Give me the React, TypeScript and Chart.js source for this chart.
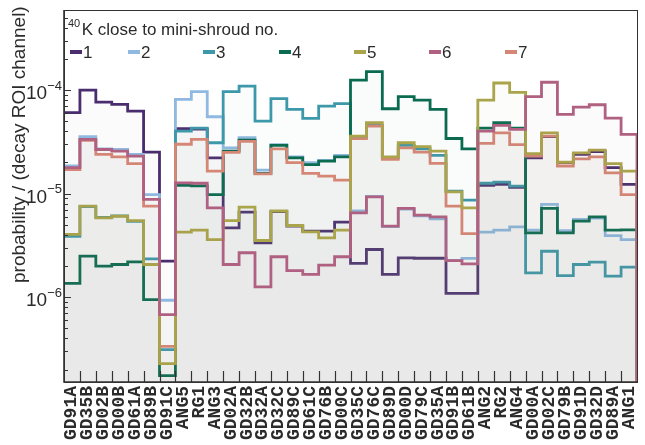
import React, { useEffect, useRef } from "react";
import { Chart, registerables } from "chart.js";

Chart.register(...registerables);

const categories = [
  "GD91A", "GD35B", "GD02B", "GD00B", "GD61A", "GD89B", "GD91C", "ANG5", "RG1", "ANG3",
  "GD02A", "GD32B", "GD32A", "GD32C", "GD89C", "GD61C", "GD76B", "GD00C", "GD35C", "GD76C",
  "GD89D", "GD00D", "GD79C", "GD35A", "GD91B", "GD61B", "ANG2", "RG2", "ANG4", "GD00A",
  "GD02C", "GD79B", "GD91D", "GD32D", "GD89A", "ANG1",
];

const shroud1 = [
  6.05e-5, 1.0e-4, 7.65e-5, 7.27e-5, 6.27e-5, 2.52e-5, 2.23e-6, 4.24e-5, 4.2e-5, 2.22e-5,
  4.68e-6, 6.62e-6, 3.35e-6, 6.7e-6, 4.85e-6, 4.34e-6, 4.34e-6, 5.31e-6, 2.12e-6, 2.89e-6,
  1.66e-6, 2.4e-6, 2.38e-6, 2.38e-6, 1.09e-6, 1.09e-6, 1.2e-5, 1.23e-5, 1.15e-5, 2.22e-5,
  3.55e-5, 2.0e-5, 2.4e-5, 2.55e-5, 1.78e-5, 1.23e-5,
];
const shroud2 = [
  1.85e-5, 3.55e-5, 2.71e-5, 2.67e-5, 2.39e-5, 9.8e-6, 9.35e-7, 8.13e-5, 9.65e-5, 5.53e-5,
  2.77e-5, 3.47e-5, 1.69e-5, 2.98e-5, 2.27e-5, 1.99e-5, 2.1e-5, 2.34e-5, 6.8e-6, 9.4e-6,
  4.8e-6, 7.1e-6, 6.1e-6, 5.71e-6, 2.27e-6, 2.37e-6, 4.26e-6, 4.44e-6, 4.78e-6, 4.44e-6,
  7.87e-6, 4.4e-6, 5.63e-6, 5.8e-6, 3.94e-6, 3.6e-6,
];
const shroud3 = [
  3.88e-6, 7.5e-6, 5.9e-6, 6.1e-6, 5.4e-6, 2.35e-6, 3.12e-7, 4.02e-5, 4.3e-5, 3.1e-5,
  9.65e-5, 1.09e-4, 5.01e-5, 8.26e-5, 6.51e-5, 5.33e-5, 7.0e-5, 7.39e-5, 3.47e-5, 4.56e-5,
  2.22e-5, 2.92e-5, 2.71e-5, 2.34e-5, 1.06e-5, 8.65e-6, 1.26e-5, 1.29e-5, 1.18e-5, 1.72e-6,
  2.78e-6, 1.62e-6, 2.07e-6, 2.18e-6, 1.6e-6, 1.95e-6,
];
const shroud4 = [
  1.36e-6, 2.49e-6, 2.0e-6, 2.07e-6, 2.2e-6, 9.5e-7, 1.75e-7, 1.2e-5, 1.19e-5, 9.8e-6,
  2.58e-5, 3.29e-5, 1.57e-5, 2.92e-5, 2.22e-5, 1.91e-5, 2.06e-5, 2.27e-5, 1.25e-4, 1.51e-4,
  6.6e-5, 8.63e-5, 8.0e-5, 6.51e-5, 3.41e-5, 2.71e-5, 4.3e-5, 4.84e-5, 4.3e-5, 4.19e-6,
  7.2e-6, 4.19e-6, 5.42e-6, 5.98e-6, 4.44e-6, 4.47e-6,
];
const shroud5 = [
  4.04e-6, 7.57e-6, 5.85e-6, 6.05e-6, 5.5e-6, 2.07e-6, 2.29e-7, 4.25e-6, 4.44e-6, 3.6e-6,
  5.5e-6, 7.4e-6, 3.53e-6, 6.8e-6, 4.93e-6, 4.28e-6, 3.75e-6, 4.44e-6, 3.6e-5, 4.84e-5,
  2.27e-5, 3.1e-5, 2.84e-5, 2.58e-5, 1.04e-5, 7.3e-6, 8.0e-5, 1.17e-4, 9.5e-5, 2.43e-5,
  3.87e-5, 2.01e-5, 2.48e-5, 2.63e-5, 1.95e-5, 1.65e-5,
];
const shroud6 = [
  1.78e-5, 3.34e-5, 2.67e-5, 2.58e-5, 2.3e-5, 8.79e-6, 6.8e-7, 1.27e-5, 1.26e-5, 7.3e-6,
  2.07e-6, 2.69e-6, 1.26e-6, 2.46e-6, 1.81e-6, 1.66e-6, 2.04e-6, 2.46e-6, 6.53e-6, 9.33e-6,
  4.85e-6, 7.2e-6, 6.2e-6, 5.98e-6, 2.26e-6, 2.1e-6, 4.02e-5, 4.56e-5, 4.17e-5, 8.63e-5,
  1.19e-4, 5.82e-5, 6.85e-5, 7.22e-5, 5.36e-5, 3.73e-5,
];
const shroud7 = [
  1.71e-5, 3.27e-5, 2.39e-5, 2.27e-5, 1.95e-5, 7.57e-6, 3.36e-7, 3.0e-5, 3.34e-5, 1.65e-5,
  2.5e-5, 3.2e-5, 1.55e-5, 2.71e-5, 1.99e-5, 1.57e-5, 1.48e-5, 1.35e-5, 3.4e-5, 4.5e-5,
  2.14e-5, 2.77e-5, 2.52e-5, 1.96e-5, 7.57e-6, 4.12e-6, 3.06e-5, 3.87e-5, 2.98e-5, 2.3e-5,
  3.6e-5, 1.85e-5, 2.17e-5, 2.27e-5, 1.59e-5, 9.8e-6,
];

const seriesValues = [shroud1, shroud2, shroud3, shroud4, shroud5, shroud6, shroud7];
const seriesNames = ["1", "2", "3", "4", "5", "6", "7"];
const seriesColors = ["#4a2d6e", "#8fb9e0", "#3d98aa", "#0a6b50", "#aaa44a", "#b06080", "#d68675"];
const drawOrder = [6, 5, 4, 3, 1, 0, 2];

const legendTitleSup = "40";
const legendTitle = "K close to mini-shroud no.";
const yTitle = "probability / (decay ROI channel)";
const yMin = 1.52e-7;
const yMax = 5.93e-4;
const yMajorValues = [1e-6, 1e-5, 1e-4];
const yMajorBase = "10";
const yMajorExponents = ["\u22126", "\u22125", "\u22124"];

const legendX = [70, 128, 203, 279, 354, 429, 505];
const TEXT = "#2b2b2b";
const SANS = "'Liberation Sans', Arial, sans-serif";

function fillColor(hex: string) {
  const n = parseInt(hex.slice(1), 16);
  const r = (n >> 16) & 255, g = (n >> 8) & 255, b = n & 255;
  // blend the series colour towards neutral grey, very transparent
  const mix = (c: number) => Math.round(c * 0.35 + 150 * 0.65);
  return `rgba(${mix(r)},${mix(g)},${mix(b)},0.03)`;
}

const decorPlugin = {
  id: "decor",
  afterDatasetsDraw(chart: any) {
    const { ctx, chartArea: a, scales } = chart;
    const xs = scales.x;
    const ys = scales.y;
    ctx.save();
    ctx.strokeStyle = "#333";
    ctx.lineWidth = 1;
    ctx.strokeRect(a.left + 0.5, a.top + 0.5, a.right - a.left, a.bottom - a.top);
    ctx.lineWidth = 1.6;
    ctx.beginPath();
    ctx.moveTo(a.left, a.top);
    ctx.lineTo(a.left, a.bottom);
    ctx.lineTo(a.right, a.bottom);
    ctx.stroke();
    ctx.lineWidth = 1.2;
    ctx.beginPath();
    for (let i = 1; i < categories.length; i++) {
      const px = Math.round(xs.getPixelForValue(i)) + 0.5;
      ctx.moveTo(px, a.bottom);
      ctx.lineTo(px, a.bottom - 11);
    }
    const k0 = Math.floor(Math.log10(yMin));
    const k1 = Math.ceil(Math.log10(yMax));
    for (let k = k0; k <= k1; k++) {
      for (let m = 1; m <= 9; m++) {
        const v = m * Math.pow(10, k);
        if (v < yMin || v > yMax) continue;
        const py = Math.round(ys.getPixelForValue(v)) + 0.5;
        const len = m === 1 ? 7 : 4;
        ctx.moveTo(a.left, py);
        ctx.lineTo(a.left + len, py);
      }
    }
    ctx.stroke();
    ctx.restore();
  },
  afterDraw(chart: any) {
    const { ctx, chartArea: a, scales } = chart;
    const ys = scales.y;
    ctx.save();
    ctx.fillStyle = TEXT;
    yMajorValues.forEach((v, i) => {
      const py = ys.getPixelForValue(v);
      ctx.font = `13px ${SANS}`;
      ctx.textAlign = "right";
      ctx.textBaseline = "alphabetic";
      const expW = ctx.measureText(yMajorExponents[i]).width;
      ctx.fillText(yMajorExponents[i], a.left - 2, py - 0.5);
      ctx.font = `19px ${SANS}`;
      ctx.fillText(yMajorBase, a.left - 2 - expW, py + 9);
    });
    ctx.save();
    ctx.translate(20, 283);
    ctx.rotate(-Math.PI / 2);
    ctx.font = `19px ${SANS}`;
    ctx.textAlign = "left";
    ctx.textBaseline = "middle";
    ctx.fillText(yTitle, 0, 0);
    ctx.restore();
    ctx.textAlign = "left";
    ctx.textBaseline = "alphabetic";
    ctx.font = `11px ${SANS}`;
    ctx.fillText(legendTitleSup, 68, 26.5);
    const supW = ctx.measureText(legendTitleSup).width;
    ctx.font = `17px ${SANS}`;
    ctx.fillText(legendTitle, 68 + supW + 1.5, 35);
    seriesNames.forEach((name, i) => {
      const x0 = legendX[i];
      ctx.fillStyle = seriesColors[i];
      ctx.fillRect(x0, 50, 12, 4);
      ctx.fillStyle = TEXT;
      ctx.fillText(name, x0 + 13, 57.5);
    });
    ctx.restore();
  },
};

export default function App() {
  const ref = useRef<HTMLCanvasElement>(null);

  useEffect(() => {
    if (!ref.current) return;
    const datasets = seriesValues.map((vals, si) => {
      const pts = vals.map((v, i) => ({ x: i, y: v }));
      pts.push({ x: vals.length, y: yMin });
      return {
        label: seriesNames[si],
        data: pts,
        borderColor: seriesColors[si],
        backgroundColor: fillColor(seriesColors[si]),
        borderWidth: 2.8,
        pointRadius: 0,
        stepped: "before" as const,
        fill: "start",
        order: drawOrder[si],
        tension: 0,
      };
    });

    const chart = new Chart(ref.current, {
      type: "line",
      data: { datasets },
      options: {
        animation: false,
        responsive: false,
        devicePixelRatio: 1,
        layout: { padding: { top: 10, right: 8, left: 0, bottom: 0 } },
        plugins: { legend: { display: false }, tooltip: { enabled: false } },
        scales: {
          x: {
            type: "linear",
            min: 0,
            max: categories.length,
            afterBuildTicks: (s: any) => {
              s.ticks = categories.map((_, i) => ({ value: i + 0.5 }));
            },
            afterFit: (s: any) => {
              s.height = 63;
              s.paddingLeft = 0;
              s.paddingRight = 0;
            },
            ticks: {
              autoSkip: false,
              minRotation: 90,
              maxRotation: 90,
              padding: 4,
              color: TEXT,
              font: { family: "'Liberation Mono', 'Courier New', monospace", weight: "bold", size: 18 },
              callback: (_v: any, idx: number) => categories[idx],
            },
            grid: { display: false, drawTicks: false },
            border: { display: false },
          },
          y: {
            type: "logarithmic",
            min: yMin,
            max: yMax,
            afterFit: (s: any) => {
              s.width = 64;
              s.paddingTop = 0;
              s.paddingBottom = 0;
            },
            ticks: { display: false },
            grid: { display: false, drawTicks: false },
            border: { display: false },
          },
        },
      },
      plugins: [decorPlugin],
    } as any);
    return () => chart.destroy();
  }, []);

  return (
    <div style={{ position: "fixed", left: 0, top: 0, width: 645, height: 445, background: "#fff" }}>
      <canvas ref={ref} width={645} height={445} style={{ display: "block", width: 645, height: 445 }} />
    </div>
  );
}
